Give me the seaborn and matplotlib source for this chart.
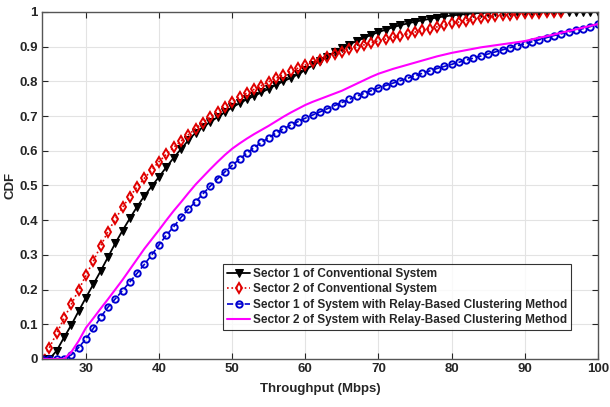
import numpy as np
import pandas as pd
import matplotlib
matplotlib.use("Agg")
import matplotlib.pyplot as plt
import seaborn as sns

# ---- data ----
x_full = list(range(24, 101))
x_red = list(range(24, 96))

sector1_conv = [0, 0, 0.024, 0.062, 0.098, 0.138, 0.177, 0.215, 0.253, 0.293,
                0.333, 0.37, 0.405, 0.439, 0.47, 0.498, 0.525, 0.553, 0.58, 0.605,
                0.63, 0.652, 0.668, 0.683, 0.697, 0.711, 0.725, 0.737, 0.748, 0.758,
                0.768, 0.779, 0.79, 0.80, 0.81, 0.82, 0.833, 0.846, 0.858, 0.871,
                0.884, 0.896, 0.906, 0.916, 0.925, 0.934, 0.942, 0.949, 0.956, 0.962,
                0.967, 0.972, 0.976, 0.98, 0.984, 0.987, 0.99, 0.992, 0.994, 0.996,
                0.997, 0.998, 0.999, 1, 1, 1, 1, 1, 1, 1,
                1, 1, 1, 1, 1, 1, 1]

sector2_conv = [0.0, 0.033, 0.074, 0.117, 0.158, 0.199, 0.241, 0.282, 0.325, 0.367,
                0.402, 0.437, 0.468, 0.496, 0.521, 0.545, 0.569, 0.59, 0.61, 0.628,
                0.646, 0.664, 0.681, 0.697, 0.712, 0.727, 0.741, 0.754, 0.766, 0.777,
                0.788, 0.799, 0.809, 0.819, 0.829, 0.838, 0.847, 0.855, 0.863, 0.871,
                0.879, 0.886, 0.893, 0.899, 0.905, 0.911, 0.917, 0.922, 0.927, 0.932,
                0.937, 0.942, 0.947, 0.952, 0.957, 0.962, 0.967, 0.971, 0.975, 0.979,
                0.982, 0.985, 0.988, 0.99, 0.992, 0.994, 0.996, 0.997, 0.998, 0.999,
                1.0, 1.0]

sector1_relay = [0, 0, 0, 0, 0.012, 0.033, 0.058, 0.088, 0.12, 0.149,
                 0.173, 0.197, 0.222, 0.247, 0.273, 0.30, 0.329, 0.357, 0.381, 0.408,
                 0.432, 0.453, 0.476, 0.498, 0.519, 0.539, 0.558, 0.576, 0.593, 0.609,
                 0.624, 0.638, 0.651, 0.663, 0.674, 0.684, 0.694, 0.703, 0.712, 0.721,
                 0.73, 0.739, 0.748, 0.757, 0.765, 0.773, 0.781, 0.788, 0.795, 0.802,
                 0.809, 0.816, 0.823, 0.83, 0.837, 0.843, 0.849, 0.855, 0.861, 0.867,
                 0.873, 0.879, 0.885, 0.891, 0.897, 0.903, 0.908, 0.914, 0.92, 0.926,
                 0.932, 0.937, 0.942, 0.947, 0.952, 0.958, 0.964]

sector2_relay = [0, 0, 0, 0, 0.02, 0.052, 0.09, 0.117, 0.145, 0.172,
                 0.20, 0.228, 0.258, 0.288, 0.318, 0.345, 0.372, 0.40, 0.427, 0.452,
                 0.478, 0.503, 0.525, 0.547, 0.568, 0.588, 0.606, 0.621, 0.635, 0.648,
                 0.66, 0.672, 0.685, 0.698, 0.71, 0.721, 0.732, 0.741, 0.749, 0.757,
                 0.765, 0.773, 0.783, 0.793, 0.803, 0.813, 0.822, 0.829, 0.836, 0.842,
                 0.848, 0.854, 0.86, 0.866, 0.872, 0.877, 0.882, 0.886, 0.89, 0.894,
                 0.898, 0.901, 0.904, 0.907, 0.91, 0.913, 0.916, 0.921, 0.926, 0.93,
                 0.935, 0.94, 0.945, 0.95, 0.955, 0.96, 0.965]

labels = ["Sector 1 of Conventional System",
          "Sector 2 of Conventional System",
          "Sector 1 of System with Relay-Based Clustering Method",
          "Sector 2 of System with Relay-Based Clustering Method"]

x_ticks = [30, 40, 50, 60, 70, 80, 90, 100]
y_ticks = [0, 0.1, 0.2, 0.3, 0.4, 0.5, 0.6, 0.7, 0.8, 0.9, 1]
y_ticklabels = ["0", "0.1", "0.2", "0.3", "0.4", "0.5", "0.6", "0.7", "0.8", "0.9", "1"]

# ---- plot ----
sns.set_style("whitegrid")
plt.rcParams['font.family'] = ['Liberation Sans', 'DejaVu Sans']
plt.rcParams['font.weight'] = 'bold'

fig = plt.figure(figsize=(6.10, 4.07), dpi=100)
ax = fig.add_axes([0.069, 0.118, 0.911, 0.8526])

sns.lineplot(x=x_full, y=sector1_conv, ax=ax, color='black', linestyle='-',
             marker='v', markersize=5.5, markerfacecolor='black', markeredgecolor='black',
             linewidth=1.3, label=labels[0])
sns.lineplot(x=x_red, y=sector2_conv, ax=ax, color='#e00000', linestyle=':',
             marker='d', markersize=5.2, markerfacecolor='none', markeredgecolor='#e00000',
             markeredgewidth=1.4, linewidth=1.2, label=labels[1])
sns.lineplot(x=x_full, y=sector1_relay, ax=ax, color='#0000d0', linestyle='--',
             marker='o', markersize=4.6, markerfacecolor='none', markeredgecolor='#0000d0',
             markeredgewidth=1.4, linewidth=1.2, label=labels[2])
sns.lineplot(x=x_full, y=sector2_relay, ax=ax, color='#ff00ff', linestyle='-',
             linewidth=1.5, label=labels[3])

ax.set_xlim(24, 100)
ax.set_ylim(0, 1)
ax.set_xticks(x_ticks)
ax.set_yticks(y_ticks)
ax.set_yticklabels(y_ticklabels)
ax.tick_params(axis='both', direction='in', length=4, labelsize=9.5, pad=3,
               top=True, right=True, bottom=True, left=True, colors='#262626')
for lab in ax.get_xticklabels() + ax.get_yticklabels():
    lab.set_fontweight('bold')
ax.grid(True, color='#e3e3e3', linewidth=0.8)
for s in ax.spines.values():
    s.set_visible(True)
    s.set_color('#555555')
    s.set_linewidth(1.0)

ax.set_xlabel("Throughput (Mbps)", fontsize=9.5, fontweight='bold', labelpad=6)
ax.set_ylabel("CDF", fontsize=9.5, fontweight='bold', labelpad=2)

leg = ax.legend(loc='lower right', bbox_to_anchor=(0.951, 0.084), borderaxespad=0,
                fontsize=8.5, frameon=True, fancybox=False, handlelength=2.0,
                handletextpad=0.2, labelspacing=0.3, borderpad=0.3)
leg.get_frame().set_edgecolor('black')
leg.get_frame().set_linewidth(0.8)
for t in leg.get_texts():
    t.set_fontweight('bold')

fig.savefig("out.png", dpi=100)
